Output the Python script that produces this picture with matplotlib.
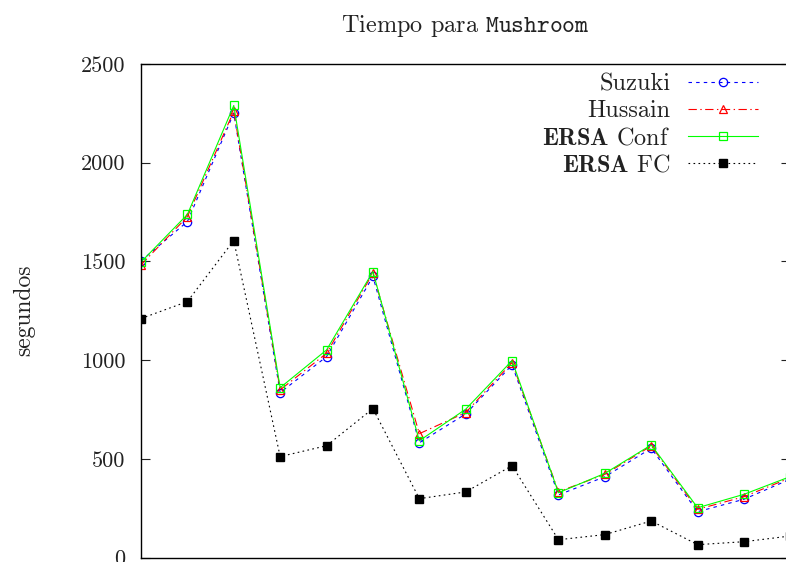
import matplotlib
matplotlib.use("Agg")
import matplotlib.pyplot as plt
import numpy as np

plt.rcParams['font.family'] = ['cmr10', 'DejaVu Serif']
plt.rcParams['mathtext.fontset'] = 'cm'
plt.rcParams['axes.formatter.use_mathtext'] = True
plt.rcParams['lines.scale_dashes'] = False

# data
x_idx = list(range(15))
suzuki = [1503, 1702, 2251, 836, 1018, 1424, 582, 728, 976, 318, 410, 554, 233, 296, 398]
hussain = [1483, 1727, 2261, 850, 1035, 1441, 628, 735, 988, 334, 422, 566, 245, 309, 405]
ersa_conf = [1497, 1738, 2290, 861, 1052, 1449, 592, 752, 998, 329, 427, 571, 253, 321, 411]
ersa_fc = [1211, 1297, 1606, 512, 567, 755, 299, 333, 466, 91, 117, 186, 66, 81, 110]
labels = ["Suzuki", r"Hussain", r"$\mathbf{ERSA}$ Conf", r"$\mathbf{ERSA}$ FC"]
yticks = [0, 500, 1000, 1500, 2000, 2500]
title = r"Tiempo para $\mathtt{Mushroom}$"
ylabel = "segundos"

W, H = 786, 562
fig = plt.figure(figsize=(W / 100, H / 100), dpi=100)
left, right, top, bottom = 141, 790.4, 64, 557.7
ax = fig.add_axes([left / W, (H - bottom) / H, (right - left) / W, (bottom - top) / H])

lw = 0.8
ax.plot(x_idx, suzuki, color=(0, 0, 1), lw=lw, dashes=(2.5, 3), marker='o',
        mfc='none', mec=(0, 0, 1), ms=6, mew=0.9, label=labels[0])
ax.plot(x_idx, hussain, color=(1, 0, 0), lw=lw, dashes=(6, 2.5, 1, 2.5), marker='^',
        mfc='none', mec=(1, 0, 0), ms=6, mew=0.9, label=labels[1])
ax.plot(x_idx, ersa_conf, color=(0, 1, 0), lw=lw, ls='-', marker='s',
        mfc='none', mec=(0, 1, 0), ms=6.2, mew=0.9, label=labels[2])
ax.plot(x_idx, ersa_fc, color='black', lw=lw, dashes=(1.2, 2.4), marker='s',
        mfc='black', mec='black', ms=6.3, label=labels[3])

ax.set_xlim(0, 14)
ax.set_ylim(0, 2500)
ax.set_yticks(yticks)
ax.set_yticklabels([str(v) for v in yticks])
ax.set_xticks([])
ax.tick_params(axis='y', direction='in', length=6.5, width=0.8, labelsize=16,
               right=True, pad=11, colors='#222222', labelcolor='#222222')
for s in ax.spines.values():
    s.set_linewidth(1.0)

ax.set_title(title, fontsize=17.5, pad=23, color='#222222')
fig.text(24 / W, 1 - 310 / H, ylabel, rotation=90, fontsize=17, ha='center',
         va='center', color='#222222')

leg = ax.legend(loc='upper right', bbox_to_anchor=((758 - left) / (right - left), 1.0 - 9 / (bottom - top)),
                frameon=False, markerfirst=False, fontsize=17.5, handlelength=2.9,
                handletextpad=0.7, labelspacing=0.2, borderpad=0, borderaxespad=0)
for t in leg.get_texts():
    t.set_color('#222222')

fig.savefig("out.png", dpi=100)
